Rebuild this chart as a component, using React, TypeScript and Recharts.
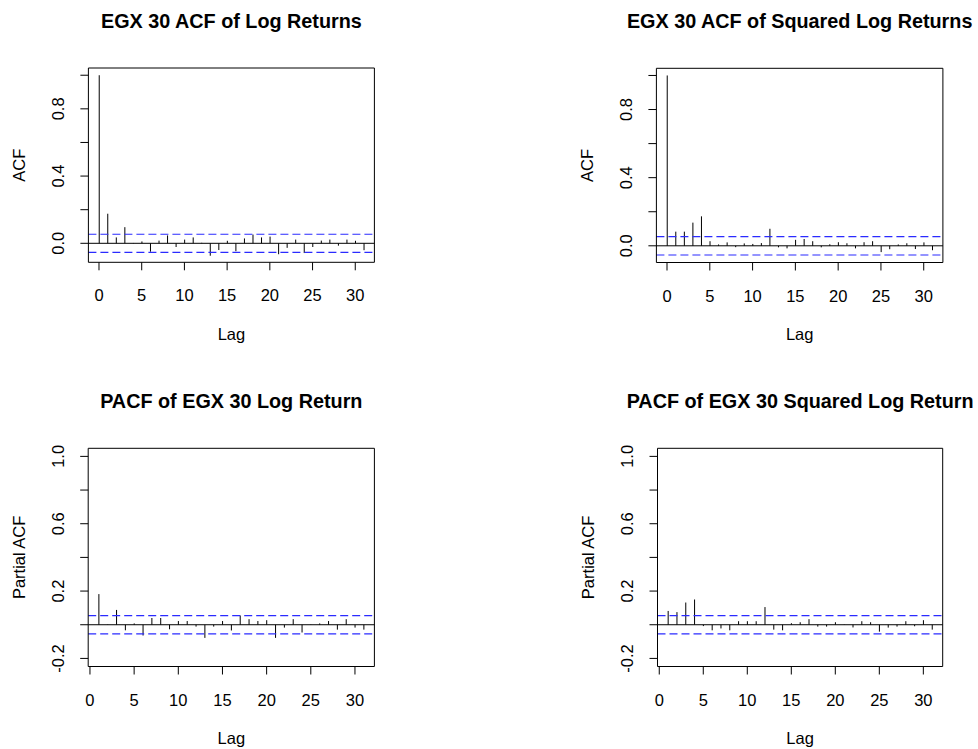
import React from 'react';
import { ComposedChart, Bar, XAxis, YAxis, ReferenceLine } from 'recharts';

// ---------------- data ----------------
const acfLags = [0, 1, 2, 3, 4, 5, 6, 7, 8, 9, 10, 11, 12, 13, 14, 15, 16, 17, 18, 19, 20, 21, 22, 23, 24, 25, 26, 27, 28, 29, 30, 31];
const acfLogReturns = [1.0, 0.176, 0.035, 0.096, 0.002, 0.011, -0.05, 0.016, 0.047, -0.022, 0.022, 0.035, 0.003, -0.074, -0.04, 0.015, -0.047, 0.029, 0.052, 0.035, 0.04, -0.065, -0.027, 0.022, -0.058, -0.022, 0.016, 0.022, -0.014, 0.022, 0.015, -0.041];
const acfSquaredLogReturns = [1.0, 0.083, 0.083, 0.136, 0.173, 0.027, 0.008, 0.02, -0.008, 0.014, 0.011, 0.016, 0.1, -0.009, -0.015, 0.035, 0.04, 0.027, -0.009, 0.009, 0.021, 0.015, -0.015, 0.021, 0.027, -0.037, -0.02, 0.008, 0.015, -0.019, 0.02, -0.026];

const pacfLags = [1, 2, 3, 4, 5, 6, 7, 8, 9, 10, 11, 12, 13, 14, 15, 16, 17, 18, 19, 20, 21, 22, 23, 24, 25, 26, 27, 28, 29, 30, 31];
const pacfLogReturn = [0.182, 0.002, 0.088, -0.033, 0.008, -0.064, 0.04, 0.04, -0.027, 0.022, 0.022, -0.011, -0.078, -0.011, 0.022, -0.034, 0.055, 0.033, 0.022, 0.027, -0.078, -0.017, 0.033, -0.046, 0.002, 0.008, 0.022, -0.029, 0.033, -0.017, -0.029];
const pacfSquaredLogReturn = [0.082, 0.075, 0.132, 0.15, -0.008, -0.033, -0.022, -0.033, 0.021, 0.021, 0.021, 0.105, -0.029, -0.033, 0.009, 0.015, 0.033, -0.011, -0.011, 0.015, 0.002, -0.016, 0.021, 0.015, -0.041, -0.017, -0.011, 0.021, -0.009, 0.027, -0.029];

const confBound = 0.054;

const lagTicks = [0, 5, 10, 15, 20, 25, 30];
const acfTicks = [0, 0.2, 0.4, 0.6, 0.8, 1.0];
const acfTickLabels = ['0.0', '0.4', '0.8'];
const pacfTicks = [-0.2, 0, 0.2, 0.4, 0.6, 0.8, 1.0];
const pacfTickLabels = ['-0.2', '0.2', '0.6', '1.0'];

const titles = [
  'EGX 30 ACF of Log Returns',
  'EGX 30 ACF of Squared Log Returns',
  'PACF of EGX 30 Log Return',
  'PACF of EGX 30 Squared Log Return',
];
const yLabels = ['ACF', 'ACF', 'Partial ACF', 'Partial ACF'];
const xLabel = 'Lag';

// ---------------- layout ----------------
const W = 978;
const H = 749;
const FONT = '"Liberation Sans", Arial, Helvetica, sans-serif';
const BASE = 16.5;
const TITLE = 19.8;
const CI_COLOR = '#2b2bff';
const AX = 30; // space reserved for bottom / left axes
const AX2 = 4; // space reserved for top / right axes

type Panel = {
  l: number; r: number; t: number; b: number;
  xd: [number, number]; yd: [number, number];
  lags: number[]; values: number[];
  yTicks: number[]; yLabeled: string[];
  title: string; yLabel: string;
};

const panels: Panel[] = [
  { l: 88.4, r: 374.4, t: 68, b: 262.3, xd: [-1.24, 32.24], yd: [-0.113, 1.043], lags: acfLags, values: acfLogReturns, yTicks: acfTicks, yLabeled: acfTickLabels, title: titles[0], yLabel: yLabels[0] },
  { l: 656.4, r: 942.9, t: 68.3, b: 262.5, xd: [-1.24, 32.24], yd: [-0.098, 1.042], lags: acfLags, values: acfSquaredLogReturns, yTicks: acfTicks, yLabeled: acfTickLabels, title: titles[1], yLabel: yLabels[1] },
  { l: 88.2, r: 374.4, t: 448.3, b: 666.5, xd: [-0.2, 32.2], yd: [-0.248, 1.048], lags: pacfLags, values: pacfLogReturn, yTicks: pacfTicks, yLabeled: pacfTickLabels, title: titles[2], yLabel: yLabels[2] },
  { l: 657.5, r: 942.7, t: 448.3, b: 666.5, xd: [-0.2, 32.2], yd: [-0.248, 1.048], lags: pacfLags, values: pacfSquaredLogReturn, yTicks: pacfTicks, yLabeled: pacfTickLabels, title: titles[3], yLabel: yLabels[3] },
];

const Spike = (props: any) => {
  const { x, y, width, height } = props;
  if (x == null || y == null) return <g />;
  const cx = x + width / 2;
  return <line x1={cx} x2={cx} y1={y} y2={y + height} stroke="#000" strokeWidth={1} />;
};

const XTick = (props: any) => {
  const { x, y, payload } = props;
  return (
    <text x={x} y={y + 31} textAnchor="middle" fontFamily={FONT} fontSize={BASE} fill="#000">
      {String(payload.value)}
    </text>
  );
};

const makeYTick = (labeled: string[]) => (props: any) => {
  const { x, y, payload } = props;
  const label = Number(payload.value).toFixed(1);
  if (!labeled.includes(label)) return <g />;
  const tx = x - 16;
  return (
    <text x={tx} y={y} transform={`rotate(-90, ${tx}, ${y})`} textAnchor="middle" fontFamily={FONT} fontSize={BASE} fill="#000">
      {label}
    </text>
  );
};

const PanelChart = ({ p }: { p: Panel }) => {
  const rows = p.lags.map((lag, i) => ({ lag, value: p.values[i] }));
  return (
    <div style={{ position: 'absolute', left: 0, top: 0 }}>
      <ComposedChart
        width={W}
        height={H}
        data={rows}
        margin={{ left: p.l - AX, top: p.t - AX2, right: W - p.r - AX2, bottom: H - p.b - AX }}
      >
        <XAxis
          dataKey="lag"
          type="number"
          domain={p.xd}
          allowDataOverflow
          ticks={lagTicks}
          interval={0}
          height={AX}
          tickSize={8}
          tickMargin={0}
          stroke="#000"
          tick={XTick}
        />
        <XAxis xAxisId="top" orientation="top" dataKey="lag" type="number" domain={p.xd} allowDataOverflow height={AX2} tick={false} tickLine={false} stroke="#000" />
        <YAxis
          type="number"
          domain={p.yd}
          allowDataOverflow
          ticks={p.yTicks}
          interval={0}
          width={AX}
          tickSize={8}
          tickMargin={0}
          stroke="#000"
          tick={makeYTick(p.yLabeled)}
        />
        <YAxis yAxisId="right" orientation="right" type="number" domain={p.yd} allowDataOverflow width={AX2} tick={false} tickLine={false} stroke="#000" />
        <ReferenceLine y={0} stroke="#000" strokeWidth={1} />
        <ReferenceLine y={confBound} stroke={CI_COLOR} strokeWidth={1.2} strokeDasharray="8 4" />
        <ReferenceLine y={-confBound} stroke={CI_COLOR} strokeWidth={1.2} strokeDasharray="8 4" />
        <Bar dataKey="value" barSize={1} shape={Spike} isAnimationActive={false} />
      </ComposedChart>
    </div>
  );
};

export default function App() {
  return (
    <div style={{ position: 'absolute', left: 0, top: 0, width: W, height: H, background: '#fff', overflow: 'hidden' }}>
      {panels.map((p, i) => (
        <PanelChart key={i} p={p} />
      ))}
      <svg width={W} height={H} style={{ position: 'absolute', left: 0, top: 0, pointerEvents: 'none' }}>
        {panels.map((p, i) => {
          const cx = (p.l + p.r) / 2;
          const cy = (p.t + p.b) / 2;
          const ly = p.l - 63;
          return (
            <g key={i} fontFamily={FONT} fill="#000">
              <text x={cx} y={p.t - 40.5} textAnchor="middle" fontSize={TITLE} fontWeight="bold">
                {p.title}
              </text>
              <text x={cx} y={p.b + 77.5} textAnchor="middle" fontSize={BASE}>
                {xLabel}
              </text>
              <text x={ly} y={cy} transform={`rotate(-90, ${ly}, ${cy})`} textAnchor="middle" fontSize={BASE}>
                {p.yLabel}
              </text>
            </g>
          );
        })}
      </svg>
    </div>
  );
}
